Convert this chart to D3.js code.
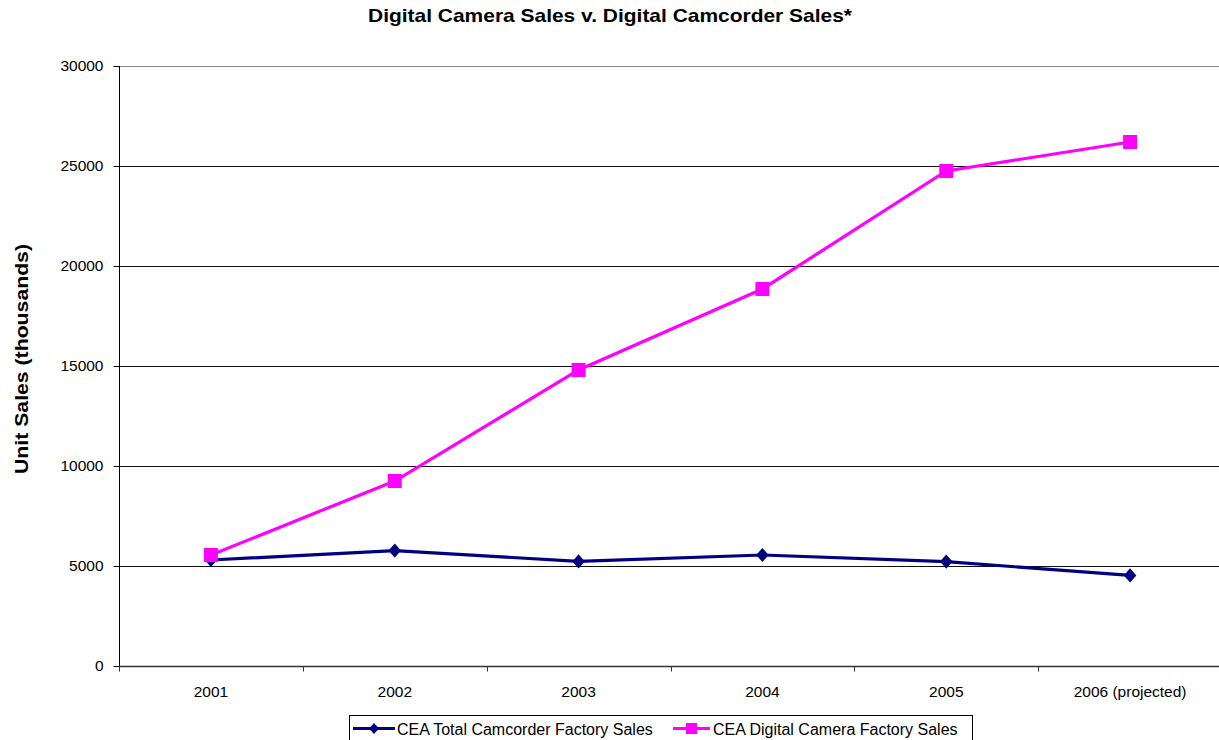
<!DOCTYPE html>
<html>
<head>
<meta charset="utf-8">
<script src="https://cdn.jsdelivr.net/npm/d3@7/dist/d3.min.js"></script>
<style>
  html, body { margin: 0; padding: 0; background: #fff; }
  svg { display: block; font-family: "Liberation Sans", Arial, sans-serif; }
</style>
</head>
<body>
<svg id="chart" width="1219" height="740"></svg>
<script>
// ─── data ─────────────────────────────────────────
const years = ['2001', '2002', '2003', '2004', '2005', '2006 (projected)'];
const camcorderSales = [5300, 5770, 5230, 5550, 5220, 4530];
const cameraSales = [5550, 9250, 14800, 18850, 24750, 26200];
const yTicks = [0, 5000, 10000, 15000, 20000, 25000, 30000];
const seriesNames = ['CEA Total Camcorder Factory Sales', 'CEA Digital Camera Factory Sales'];

(function() {
  const NAVY = '#000080', MAGENTA = '#ff00ff';
  const FONT = '"Liberation Sans", Arial, sans-serif';

  const svg = d3.select('#chart');
  const plotL = 119, plotT = 66, plotB = 666, plotR = 1222;

  const x = d3.scaleBand().domain(years).range([plotL, plotR]);
  const y = d3.scaleLinear().domain([0, 30000]).range([plotB, plotT]);
  const cx = d => x(d) + x.bandwidth() / 2;

  // title
  svg.append('text')
    .attr('x', 610).attr('y', 22)
    .attr('text-anchor', 'middle')
    .attr('font-size', 19).attr('font-weight', 'bold')
    .attr('textLength', 484).attr('lengthAdjust', 'spacingAndGlyphs')
    .text('Digital Camera Sales v. Digital Camcorder Sales*');

  // y label
  svg.append('text')
    .attr('transform', 'translate(28,359) rotate(-90)')
    .attr('text-anchor', 'middle')
    .attr('font-size', 19).attr('font-weight', 'bold')
    .attr('textLength', 230).attr('lengthAdjust', 'spacingAndGlyphs')
    .text('Unit Sales (thousands)');

  // gridlines
  svg.append('g').selectAll('line')
    .data(yTicks.filter(t => t > 0))
    .enter().append('line')
    .attr('x1', plotL).attr('x2', 1219)
    .attr('y1', d => Math.round(y(d)) + 0.5).attr('y2', d => Math.round(y(d)) + 0.5)
    .attr('stroke', d => d === 30000 ? '#888' : '#111').attr('stroke-width', 1);

  // y axis
  const yAxis = svg.append('g')
    .attr('transform', `translate(${plotL + 0.5},0)`)
    .call(d3.axisLeft(y).tickValues(yTicks).tickSize(6).tickPadding(10).tickFormat(d3.format('d')));
  yAxis.selectAll('text').attr('font-size', 15.5).attr('fill', '#000').attr('font-family', FONT);
  yAxis.selectAll('line, path').attr('stroke', '#000');
  yAxis.select('.domain').attr('d', `M0,${plotT}V${plotB}`);

  // x axis
  const xAxis = svg.append('g')
    .attr('transform', `translate(0,${plotB + 0.5})`)
    .call(d3.axisBottom(x).tickSize(0));
  xAxis.select('.domain').attr('d', `M${plotL},0H1219`).attr('stroke', '#333').attr('stroke-width', 1.5);
  xAxis.selectAll('text').attr('font-size', 15.5).attr('fill', '#000').attr('font-family', FONT)
    .attr('y', 30.5).attr('dy', null);
  xAxis.selectAll('.bound').data(years).enter().append('line')
    .attr('x1', d => Math.round(x(d)) + 0.5).attr('x2', d => Math.round(x(d)) + 0.5)
    .attr('y1', 0).attr('y2', 5).attr('stroke', '#333');

  // lines
  const line = d3.line().x((d, i) => cx(years[i])).y(d => y(d));

  svg.append('path').datum(camcorderSales)
    .attr('d', line).attr('fill', 'none').attr('stroke', NAVY).attr('stroke-width', 3.2);
  svg.append('path').datum(cameraSales)
    .attr('d', line).attr('fill', 'none').attr('stroke', MAGENTA).attr('stroke-width', 3.2);

  const diamond = d3.symbol().type(d3.symbolDiamond2).size(128);
  svg.append('g').selectAll('path')
    .data(camcorderSales).enter().append('path')
    .attr('d', diamond)
    .attr('transform', (d, i) => `translate(${cx(years[i])},${y(d)}) scale(0.88,1)`)
    .attr('fill', NAVY);

  svg.append('g').selectAll('rect')
    .data(cameraSales).enter().append('rect')
    .attr('x', (d, i) => cx(years[i]) - 7).attr('y', d => y(d) - 7)
    .attr('width', 14).attr('height', 14)
    .attr('fill', MAGENTA);

  // legend
  const lg = svg.append('g');
  lg.append('rect')
    .attr('x', 349.5).attr('y', 715.5).attr('width', 623).attr('height', 30)
    .attr('fill', '#fff').attr('stroke', '#000').attr('stroke-width', 1);

  const items = [
    { name: seriesNames[0], color: NAVY, x0: 353, x1: 395, tx: 397 },
    { name: seriesNames[1], color: MAGENTA, x0: 673, x1: 710, tx: 713 }
  ];
  items.forEach((it, i) => {
    const mx = (it.x0 + it.x1) / 2;
    lg.append('line').attr('x1', it.x0).attr('x2', it.x1)
      .attr('y1', 728.5).attr('y2', 728.5).attr('stroke', it.color).attr('stroke-width', 3);
    if (i === 0) {
      lg.append('path').attr('d', d3.symbol().type(d3.symbolDiamond2).size(80)())
        .attr('transform', `translate(${mx},728.5) scale(0.9,1)`).attr('fill', it.color);
    } else {
      lg.append('rect').attr('x', mx - 5.5).attr('y', 723).attr('width', 11).attr('height', 11)
        .attr('fill', it.color);
    }
    lg.append('text').attr('x', it.tx).attr('y', 735)
      .attr('font-size', 16).text(it.name);
  });
})();
</script>
</body>
</html>
